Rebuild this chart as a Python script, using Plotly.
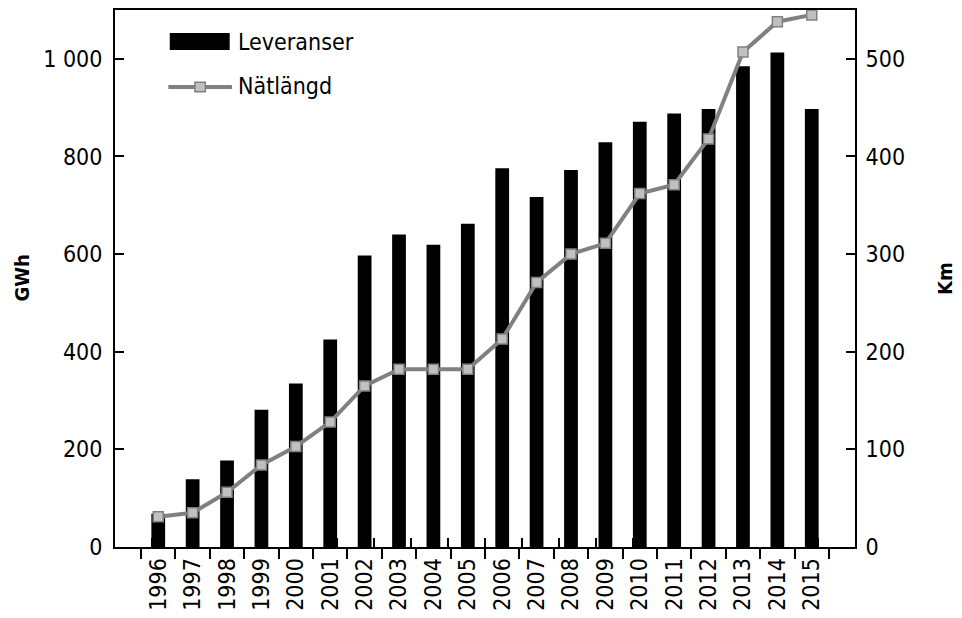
import plotly.graph_objects as go

years = [str(y) for y in range(1996, 2016)]
leveranser_gwh = [68, 139, 177, 281, 335, 425, 597, 640, 619, 662, 776, 717, 772, 829, 871, 888, 897, 985, 1013, 897]
natlangd_km = [31, 35, 56, 84, 103, 128, 165, 182, 182, 182, 213, 271, 300, 311, 362, 371, 418, 507, 538, 545]

FONT = "Liberation Sans Narrow, DejaVu Sans Condensed, sans-serif"

fig = go.Figure()
fig.add_trace(go.Bar(x=years, y=leveranser_gwh, name="Leveranser",
                     marker=dict(color="black", line=dict(width=0)), yaxis="y"))
fig.add_trace(go.Scatter(x=years, y=natlangd_km, name="Nätlängd", yaxis="y2",
                         mode="lines+markers",
                         line=dict(color="#808080", width=4),
                         marker=dict(symbol="square", size=10, color="#c0c0c0",
                                     line=dict(color="#808080", width=1.5))))
# helper (invisible) trace so the overlay axis with inside ticks is drawn
fig.add_trace(go.Scatter(x=list(range(len(years))), y=leveranser_gwh, xaxis="x3", yaxis="y",
                         mode="none", showlegend=False, hoverinfo="skip"))

fig.update_layout(
    width=962, height=618,
    margin=dict(l=115, r=107, t=10, b=71, autoexpand=False),
    plot_bgcolor="white", paper_bgcolor="white",
    separators=", ",
    font=dict(family=FONT, size=24, color="black"),
    showlegend=False,
    bargap=0.6,
    xaxis=dict(type="category", showline=True, linecolor="black", linewidth=2, mirror=True,
               ticks="outside", ticklen=10, tickwidth=2, tickcolor="black", tickson="boundaries",
               tickangle=-90, tickfont=dict(size=23), showgrid=False, zeroline=False,
               automargin=False),
    xaxis3=dict(type="linear", overlaying="x", anchor="y", side="bottom", range=[-0.5, 19.5],
                tick0=-0.5, dtick=1, ticks="inside", ticklen=9, tickwidth=2, tickcolor="black",
                showticklabels=False, showgrid=False, zeroline=False, showline=False),
    yaxis=dict(range=[0, 1100], dtick=200, tickformat=",", showline=True, linecolor="black",
               linewidth=2, ticks="inside", ticklen=9, tickwidth=2, tickcolor="black",
               showgrid=False, zeroline=False, tickfont=dict(size=23), ticklabelstandoff=6,
               automargin=False),
    yaxis2=dict(range=[0, 550], dtick=100, overlaying="y", side="right", showline=True,
                linecolor="black", linewidth=2, ticks="inside", ticklen=9, tickwidth=2,
                tickcolor="black", showgrid=False, zeroline=False, tickfont=dict(size=23),
                ticklabelstandoff=4, automargin=False),
)

# axis titles
fig.add_annotation(text="<b>GWh</b>", xref="paper", yref="paper", x=-0.127, y=0.5,
                   xanchor="center", yanchor="middle", textangle=-90, showarrow=False,
                   font=dict(size=20))
fig.add_annotation(text="<b>Km</b>", xref="paper", yref="paper", x=1.121, y=0.5,
                   xanchor="center", yanchor="middle", textangle=-90, showarrow=False,
                   font=dict(size=20))

# custom legend
fig.add_shape(type="rect", xref="paper", yref="paper", x0=0.074, x1=0.155, y0=0.9255, y1=0.957,
              fillcolor="black", line=dict(width=0))
fig.add_shape(type="line", xref="paper", yref="paper", x0=0.072, x1=0.158, y0=0.8566, y1=0.8566,
              line=dict(color="#808080", width=4))
fig.add_shape(type="rect", xref="paper", yref="paper", x0=0.108, x1=0.122, y0=0.8476, y1=0.8656,
              fillcolor="#c0c0c0", line=dict(color="#808080", width=1.5))
fig.add_annotation(text="Leveranser", xref="paper", yref="paper", x=0.164, y=0.941,
                   xanchor="left", yanchor="middle", showarrow=False, font=dict(size=23))
fig.add_annotation(text="Nätlängd", xref="paper", yref="paper", x=0.164, y=0.858,
                   xanchor="left", yanchor="middle", showarrow=False, font=dict(size=23))

fig.write_html("out.html", config={"displayModeBar": False},
               post_script="document.body.style.margin='0';")
